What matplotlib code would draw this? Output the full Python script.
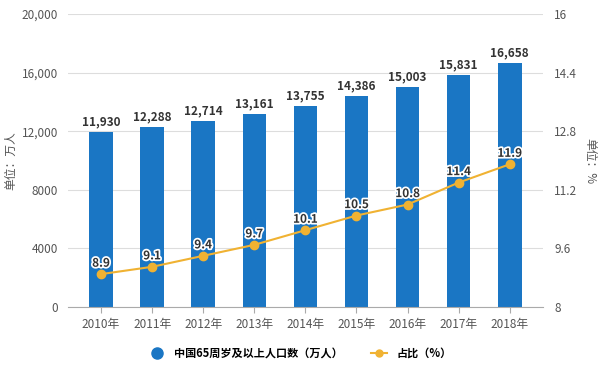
import matplotlib.pyplot as plt
import matplotlib.patheffects as pe
from matplotlib.lines import Line2D

plt.rcParams['font.family'] = ['Noto Sans CJK SC', 'DejaVu Sans']

years = ["2010年", "2011年", "2012年", "2013年", "2014年", "2015年", "2016年", "2017年", "2018年"]
population = [11930, 12288, 12714, 13161, 13755, 14386, 15003, 15831, 16658]
share = [8.9, 9.1, 9.4, 9.7, 10.1, 10.5, 10.8, 11.4, 11.9]
left_ticks = [0, 4000, 8000, 12000, 16000, 20000]
left_labels = ["0", "4000", "8000", "12,000", "16,000", "20,000"]
right_ticks = [8, 9.6, 11.2, 12.8, 14.4, 16]
right_labels = ["8", "9.6", "11.2", "12.8", "14.4", "16"]

blue = "#1a76c4"
orange = "#f0b232"
txt = "#555555"

fig = plt.figure(figsize=(6, 3.7), dpi=100)
ax = fig.add_axes([0.113, 0.170, 0.792, 0.792])
x = list(range(len(years)))

ax.bar(x, population, width=0.46, color=blue, zorder=2)
for i, v in zip(x, population):
    ax.text(i, v + 250, f"{v:,}", ha="center", va="bottom", fontsize=8.5,
            fontweight="bold", color="#333333", zorder=5)

ax.set_xlim(-0.65, 8.65)
ax.set_ylim(0, 20000)
ax.set_yticks(left_ticks)
ax.set_yticklabels(left_labels)
ax.set_xticks(x)
ax.set_xticklabels(years)
ax.grid(axis="y", color="#dddddd", linewidth=0.8, zorder=0)
for s in ["top", "right", "left"]:
    ax.spines[s].set_visible(False)
ax.spines["bottom"].set_color("#aaaaaa")
ax.tick_params(axis="y", length=0, labelsize=8.5, colors=txt, pad=7)
ax.tick_params(axis="x", length=4, color="#aaaaaa", labelsize=8.5, colors=txt)
ax.set_ylabel("单位：万人", fontsize=8.5, color=txt, labelpad=3)

ax2 = ax.twinx()
ax2.plot(x, share, color=orange, linewidth=1.5, marker="o", markersize=6, zorder=4)
for i, v in zip(x, share):
    ax2.text(i, v + 0.12, f"{v}", ha="center", va="bottom", fontsize=8.5,
             fontweight="bold", color="#333333", zorder=6,
             path_effects=[pe.withStroke(linewidth=2.5, foreground="white")])
ax2.set_ylim(8, 16)
ax2.set_yticks(right_ticks)
ax2.set_yticklabels(right_labels)
for s in ["top", "right", "left", "bottom"]:
    ax2.spines[s].set_visible(False)
ax2.tick_params(axis="y", length=0, labelsize=8.5, colors=txt, pad=8)
ax2.set_ylabel("单位：%", fontsize=8.5, color=txt, rotation=270, labelpad=14)

handles = [
    Line2D([], [], color=blue, marker="o", linestyle="none", markersize=8),
    Line2D([], [], color=orange, marker="o", markersize=5, linewidth=1.5),
]
fig.legend(handles, ["中国65周岁及以上人口数（万人）", "占比（%）"], loc="center",
           bbox_to_anchor=(0.5, 0.045), ncol=2, frameon=False,
           handlelength=1.5, columnspacing=2.5,
           prop={"family": ["Noto Sans CJK SC", "DejaVu Sans"], "weight": "bold", "size": 8})

fig.savefig("out.png", dpi=100)
